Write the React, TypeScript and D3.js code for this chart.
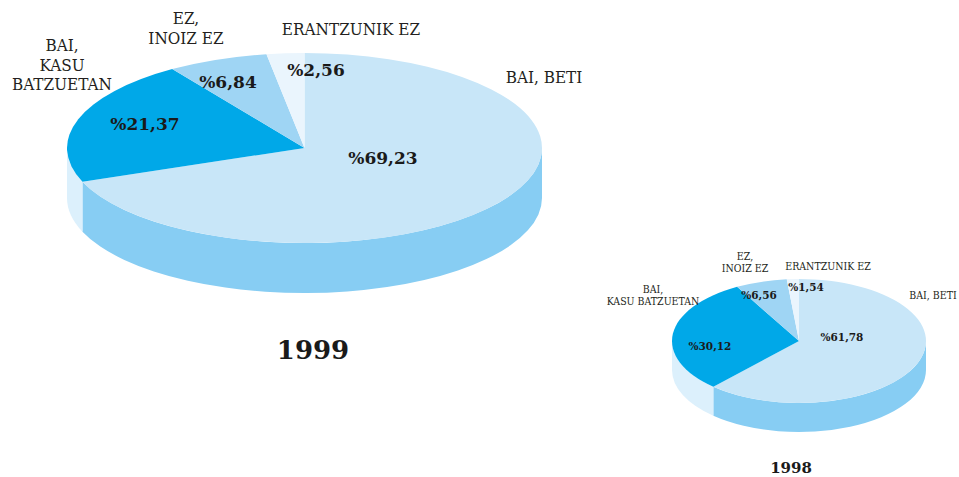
import * as d3 from "d3";
import { useEffect } from "react";

// answers, clockwise from 12 o'clock
const categories = ["BAI, BETI", "BAI, KASU BATZUETAN", "EZ, INOIZ EZ", "ERANTZUNIK EZ"];
const values1999 = [69.23, 21.37, 6.84, 2.56];
const values1998 = [61.78, 30.12, 6.56, 1.54];

const topColors = ["#c8e6f8", "#00a8e8", "#9fd5f4", "#eaf5fd"];
const sideColors = ["#87cdf3", "#dcf0fc", "#9fd5f4", "#eaf5fd"];

const serif = "'DejaVu Serif Condensed', 'DejaVu Serif', serif";

const fmt = (v: number) => "%" + v.toFixed(2).replace(".", ",");

type Layout = {
  cx: number; cy: number; rx: number; ry: number; depth: number;
  catSize: number; pctSize: number; lineH: number;
  cats: { lines: string[]; x: number; y: number }[];
  pcts: { x: number; y: number }[];
  year: string; yearX: number; yearY: number; yearSize: number;
};

const big: Layout = {
  cx: 304.5, cy: 148, rx: 237.5, ry: 95, depth: 50,
  catSize: 17, pctSize: 17, lineH: 19.5,
  cats: [
    { lines: ["BAI, BETI"], x: 544, y: 83 },
    { lines: ["BAI,", "KASU", "BATZUETAN"], x: 62, y: 51 },
    { lines: ["EZ,", "INOIZ EZ"], x: 186, y: 24 },
    { lines: ["ERANTZUNIK EZ"], x: 351, y: 35 },
  ],
  pcts: [
    { x: 383, y: 164 },
    { x: 145, y: 130 },
    { x: 228, y: 88 },
    { x: 316, y: 76 },
  ],
  year: "1999", yearX: 313, yearY: 359, yearSize: 26,
};

const small: Layout = {
  cx: 799, cy: 341, rx: 127, ry: 62, depth: 29,
  catSize: 10.5, pctSize: 10.5, lineH: 12,
  cats: [
    { lines: ["BAI, BETI"], x: 933, y: 299 },
    { lines: ["BAI,", "KASU BATZUETAN"], x: 653, y: 293 },
    { lines: ["EZ,", "INOIZ EZ"], x: 745, y: 260 },
    { lines: ["ERANTZUNIK EZ"], x: 828, y: 270 },
  ],
  pcts: [
    { x: 842, y: 341 },
    { x: 710, y: 350 },
    { x: 759, y: 299 },
    { x: 806, y: 291 },
  ],
  year: "1998", yearX: 791, yearY: 473, yearSize: 15,
};

function Pie3D({ values, L }: { values: number[]; L: Layout }) {
  const arcs = d3.pie<number>().sort(null).startAngle(0).endAngle(2 * Math.PI)(values);
  const arc = d3.arc<d3.PieArcDatum<number>>().innerRadius(0).outerRadius(L.rx);
  const pt = (a: number, dy = 0) => [L.cx + L.rx * Math.sin(a), L.cy - L.ry * Math.cos(a) + dy];

  // front wall: only the part of each slice facing the viewer
  const sides = arcs.map((d, i) => {
    const a0 = Math.max(d.startAngle, Math.PI / 2);
    const a1 = Math.min(d.endAngle, (3 * Math.PI) / 2);
    if (a1 <= a0) return null;
    const [x0, y0] = pt(a0);
    const [x1, y1] = pt(a1);
    const large = a1 - a0 > Math.PI ? 1 : 0;
    const p =
      `M${x0},${y0}A${L.rx},${L.ry} 0 ${large} 1 ${x1},${y1}` +
      `L${x1},${y1 + L.depth}A${L.rx},${L.ry} 0 ${large} 0 ${x0},${y0 + L.depth}Z`;
    return <path key={i} d={p} fill={sideColors[i]} />;
  });

  return (
    <g>
      {sides}
      <g transform={`translate(${L.cx},${L.cy}) scale(1,${L.ry / L.rx})`}>
        {arcs.map((d, i) => (
          <path key={i} d={arc(d) || ""} fill={topColors[i]} />
        ))}
      </g>
      {L.cats.map((c, i) => (
        <text key={categories[i]} x={c.x} y={c.y} textAnchor="middle" fontFamily={serif}
          fontSize={L.catSize} fill="#231f20">
          {c.lines.map((ln, j) => (
            <tspan key={j} x={c.x} dy={j === 0 ? 0 : L.lineH}>{ln}</tspan>
          ))}
        </text>
      ))}
      {L.pcts.map((p, i) => (
        <text key={i} x={p.x} y={p.y} textAnchor="middle" fontFamily="'DejaVu Serif', serif"
          fontWeight="bold" fontSize={L.pctSize} fill="#1a1a1a">
          {fmt(values[i])}
        </text>
      ))}
      <text x={L.yearX} y={L.yearY} textAnchor="middle" fontFamily="'DejaVu Serif', serif"
        fontWeight="bold" fontSize={L.yearSize} fill="#1a1a1a">
        {L.year}
      </text>
    </g>
  );
}

export default function App() {
  useEffect(() => {
    document.body.style.margin = "0";
  }, []);
  return (
    <svg width={959} height={477} style={{ display: "block", background: "#fff" }}>
      <Pie3D values={values1999} L={big} />
      <Pie3D values={values1998} L={small} />
    </svg>
  );
}
